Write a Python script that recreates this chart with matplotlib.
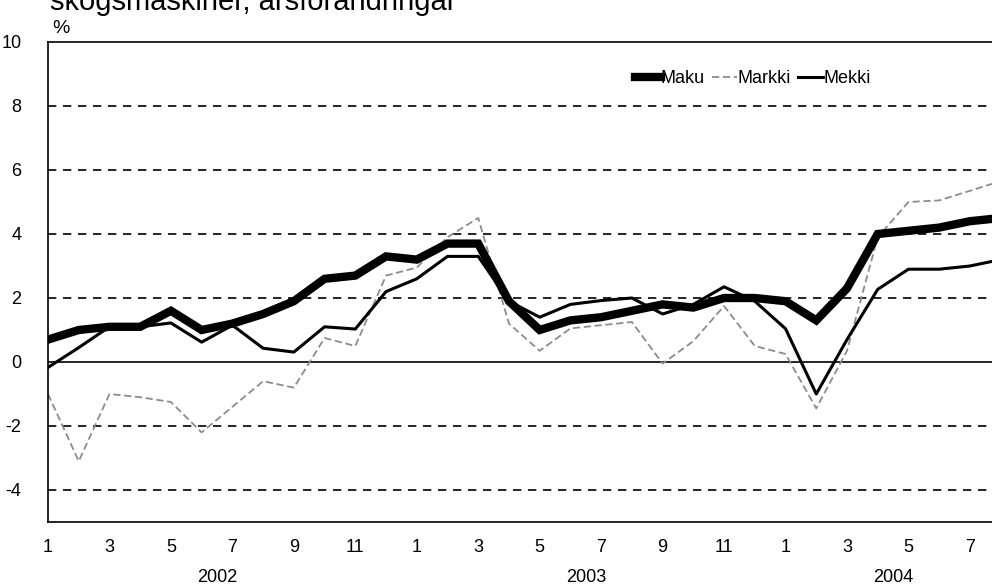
import matplotlib.pyplot as plt
import numpy as np

plt.rcParams['font.family'] = ['Liberation Sans', 'DejaVu Sans']

# Månader jan 2002 - aug 2004
manader = list(range(1, 13)) + list(range(1, 13)) + list(range(1, 9))
ar = ['2002', '2003', '2004']

maku = [0.7, 1.0, 1.1, 1.1, 1.6, 1.0, 1.2, 1.5, 1.9, 2.6, 2.7, 3.3,
        3.2, 3.7, 3.7, 1.9, 1.0, 1.3, 1.4, 1.6, 1.8, 1.7, 2.0, 2.0,
        1.9, 1.3, 2.3, 4.0, 4.1, 4.2, 4.4, 4.5]
markki = [-1.0, -3.1, -1.0, -1.1, -1.25, -2.2, -1.4, -0.6, -0.8, 0.75, 0.5, 2.7,
          2.95, 3.9, 4.5, 1.2, 0.35, 1.05, 1.15, 1.25, -0.05, 0.65, 1.75, 0.5,
          0.25, -1.45, 0.35, 3.9, 5.0, 5.05, 5.35, 5.65]
mekki = [-0.17, 0.45, 1.1, 1.1, 1.22, 0.62, 1.15, 0.43, 0.31, 1.1, 1.03, 2.2,
         2.6, 3.3, 3.3, 1.9, 1.4, 1.8, 1.92, 2.0, 1.5, 1.8, 2.35, 1.9,
         1.04, -1.0, 0.7, 2.27, 2.9, 2.9, 3.0, 3.2]

x = np.arange(len(manader))

fig = plt.figure(figsize=(9.92, 5.87), dpi=100)
ax = fig.add_axes([48 / 992, 1 - 522 / 587, 968 / 992, 480 / 587])

# Stödlinjer
for y in [-4, -2, 2, 4, 6, 8]:
    ax.axhline(y, color='black', lw=1.2, ls=(0, (5, 4)), zorder=1)
ax.axhline(0, color='black', lw=1.2, zorder=1)

ax.plot(x, maku, color='black', lw=6, label='Maku', zorder=3, solid_joinstyle='miter')
ax.plot(x, markki, color='#8c8c8c', lw=1.3, ls=(0, (4, 2)), label='Markki', zorder=2)
ax.plot(x, mekki, color='black', lw=2.2, label='Mekki', zorder=4)

ax.set_xlim(0, 31.5)
ax.set_ylim(-5, 10)
ax.set_yticks(range(-4, 11, 2))
ax.set_yticklabels([str(v) for v in range(-4, 11, 2)], fontsize=13)
ax.set_xticks(x[::2])
ax.set_xticklabels([str(m) for m in manader[::2]], fontsize=13)
ax.tick_params(axis='both', length=0, pad=12)
ax.tick_params(axis='y', pad=19)

ax.spines['right'].set_visible(False)
for s in ['left', 'top', 'bottom']:
    ax.spines[s].set_linewidth(1.2)

for pos, a in zip([5.5, 17.5, 27.5], ar):
    ax.text(pos, -0.098, a, transform=ax.get_xaxis_transform(), ha='center', va='top', fontsize=13)

ax.legend(loc='upper left', bbox_to_anchor=(0.59, 0.975), ncol=3, frameon=False,
          handlelength=1.4, handletextpad=0.0, columnspacing=0.4, fontsize=13)

# Rubriken är avskuren upptill precis som i originalet
fig.text(50 / 992, 1 - 10 / 587, 'skogsmaskiner, årsförändringar', fontsize=21, va='baseline')
fig.text(52 / 992, 1 - 33 / 587, '%', fontsize=14, va='baseline')

fig.savefig('out.png', dpi=100)
